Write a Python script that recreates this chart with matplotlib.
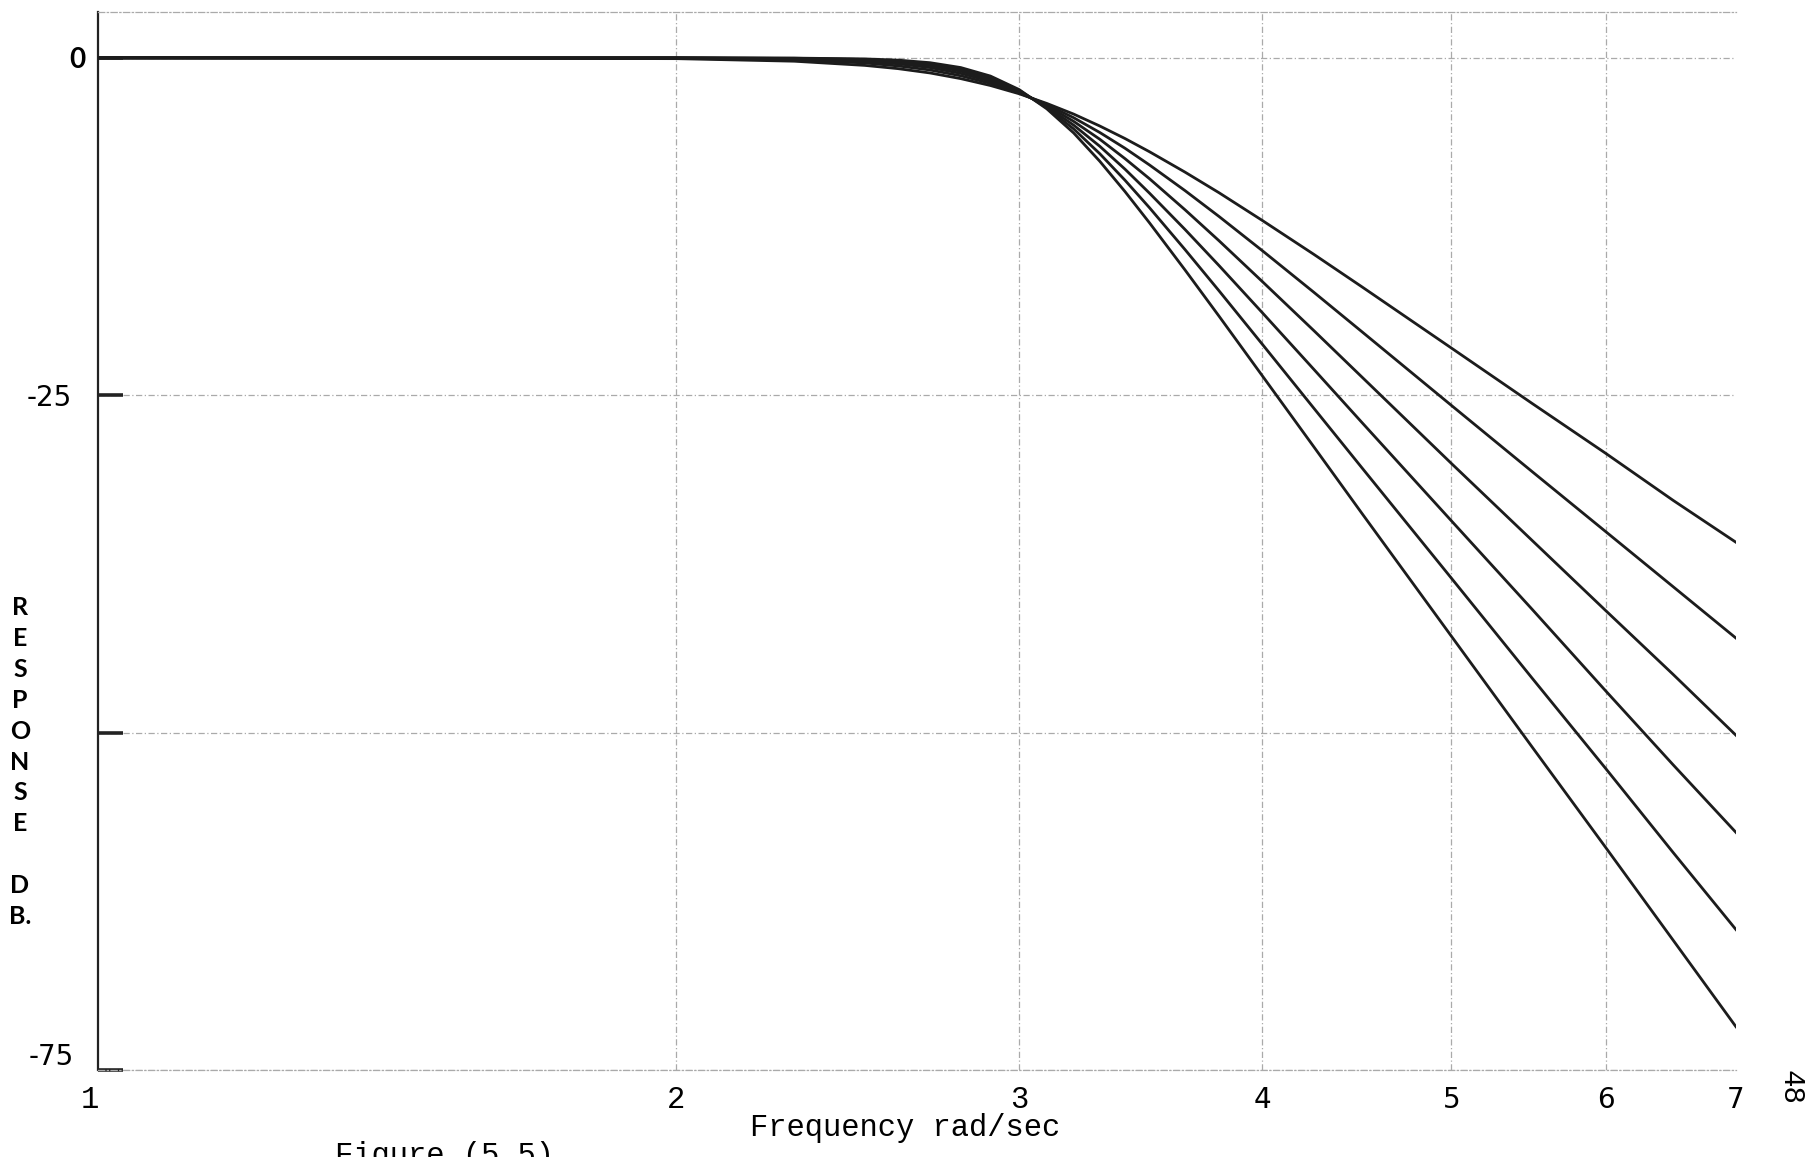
import matplotlib
matplotlib.use("Agg")
import matplotlib.pyplot as plt
import matplotlib.transforms as mtransforms
from matplotlib.ticker import NullLocator

# frequency points (rad/sec), log axis
freq = [1.01, 2.0, 2.3, 2.5, 2.6, 2.7, 2.8, 2.9, 3.0, 3.1, 3.2, 3.3, 3.4, 3.5,
        3.65, 3.8, 4.0, 4.25, 4.5, 5.0, 5.5, 6.0, 6.5, 7.0]

# response in dB, shallowest curve first
resp_1 = [0, -0.06, -0.25, -0.56, -0.8, -1.12, -1.54, -2.05, -2.66, -3.38, -4.17, -5.05,
          -5.98, -6.96, -8.47, -10.0, -12.06, -14.56, -16.98, -21.5, -25.6, -29.3, -32.8, -35.9]
resp_2 = [0, -0.03, -0.14, -0.38, -0.6, -0.9, -1.33, -1.89, -2.6, -3.46, -4.44, -5.53,
          -6.7, -7.94, -9.84, -11.76, -14.3, -17.37, -20.31, -25.75, -30.65, -35.1, -39.2, -43.0]
resp_3 = [0, -0.01, -0.08, -0.26, -0.44, -0.72, -1.15, -1.74, -2.54, -3.54, -4.71, -6.03,
          -7.47, -8.96, -11.26, -13.56, -16.59, -20.21, -23.67, -30.05, -35.75, -40.95, -45.7, -50.2]
resp_4 = [0, 0, -0.05, -0.18, -0.33, -0.57, -0.99, -1.6, -2.47, -3.62, -4.99, -6.55,
          -8.25, -10.03, -12.72, -15.4, -18.9, -23.08, -27.04, -34.3, -40.85, -46.9, -52.4, -57.4]
resp_5 = [0, 0, -0.03, -0.12, -0.24, -0.46, -0.85, -1.47, -2.41, -3.7, -5.27, -7.1,
          -9.07, -11.11, -14.21, -17.27, -21.24, -25.96, -30.4, -38.55, -45.95, -52.65, -58.9, -64.6]
resp_6 = [0, 0, -0.02, -0.08, -0.17, -0.36, -0.72, -1.35, -2.35, -3.78, -5.57, -7.66,
          -9.91, -12.23, -15.72, -19.15, -23.58, -28.82, -33.78, -42.85, -51.05, -58.5, -65.4, -71.8]

x_grid = [2, 3, 4, 5, 6]
y_ticks = [0, -25, -50, -75]
x_labels_mono = ["1", "2", "3"]
x_labels_sans = ["4", "5", "6", "7"]

fig = plt.figure(figsize=(18.13, 11.57), dpi=100)
ax = fig.add_axes([0.05405, 0.07524, 0.90347, 0.91443])

for resp in [resp_1, resp_2, resp_3, resp_4, resp_5, resp_6]:
    ax.plot(freq, resp, color="#1c1c1c", lw=2.0, zorder=3)

ax.set_xscale("log")
ax.set_xlim(1.01, 7.0)
ax.set_ylim(-75, 3.4)
ax.xaxis.set_minor_locator(NullLocator())
ax.set_xticks(x_grid)
ax.set_yticks(y_ticks)
ax.tick_params(axis="x", length=0, labelbottom=False)
ax.tick_params(axis="y", direction="in", length=18, width=2.6, color="#222222",
               labelleft=False)
ax.grid(True, color="#aaaaaa", lw=0.9, linestyle=(0, (5, 2, 1, 2)), zorder=1)

ax.spines["right"].set_visible(False)
ax.spines["left"].set_color("#222222")
ax.spines["left"].set_linewidth(1.6)
for side in ["top", "bottom"]:
    ax.spines[side].set_color("#aaaaaa")
    ax.spines[side].set_linewidth(0.9)
    ax.spines[side].set_linestyle((0, (5, 2, 1, 2)))

# y labels
ax.text(0.0425, 1 - 60 / 1157, "0", transform=fig.transFigure, ha="center", va="center",
        fontsize=20, fontweight="bold", family=["Lato", "DejaVu Sans"])
ax.text(0.0397, 1 - 398 / 1157, "-25", transform=fig.transFigure, ha="right", va="center",
        fontsize=20, family=["Liberation Sans Narrow", "DejaVu Sans"])
ax.text(0.0408, 1 - 1057 / 1157, "-75", transform=fig.transFigure, ha="right", va="center",
        fontsize=20, family=["Liberation Sans Narrow", "DejaVu Sans"])

# x labels
trans = mtransforms.blended_transform_factory(ax.transData, fig.transFigure)
for lab in x_labels_mono:
    ax.text(float(lab), 1 - 1100 / 1157, lab, transform=trans, ha="center", va="center",
            fontsize=22, family="Liberation Mono", clip_on=False)
for lab in x_labels_sans:
    ax.text(float(lab), 1 - 1100 / 1157, lab, transform=trans, ha="center", va="center",
            fontsize=20, family="DejaVu Sans", clip_on=False)

fig.text(0.4992, 1 - 1128 / 1157, "Frequency rad/sec", ha="center", va="center",
         fontsize=22, family="Liberation Mono")
fig.text(0.011, 1 - 762 / 1157, "\n".join(["R", "E", "S", "P", "O", "N", "S", "E", "", "D", "B."]),
         ha="center", va="center", fontsize=18, fontweight="bold",
         family=["Lato", "DejaVu Sans"], linespacing=1.42)
fig.text(0.9875, 1 - 1088 / 1157, "48", ha="center", va="center", rotation=-90,
         fontsize=21, family="Liberation Mono")
fig.text(335 / 1813, 1 - 1164 / 1157, "Figure (5.5)", ha="left", va="baseline",
         fontsize=22, family="Liberation Mono")

fig.savefig("out.png", dpi=100)
